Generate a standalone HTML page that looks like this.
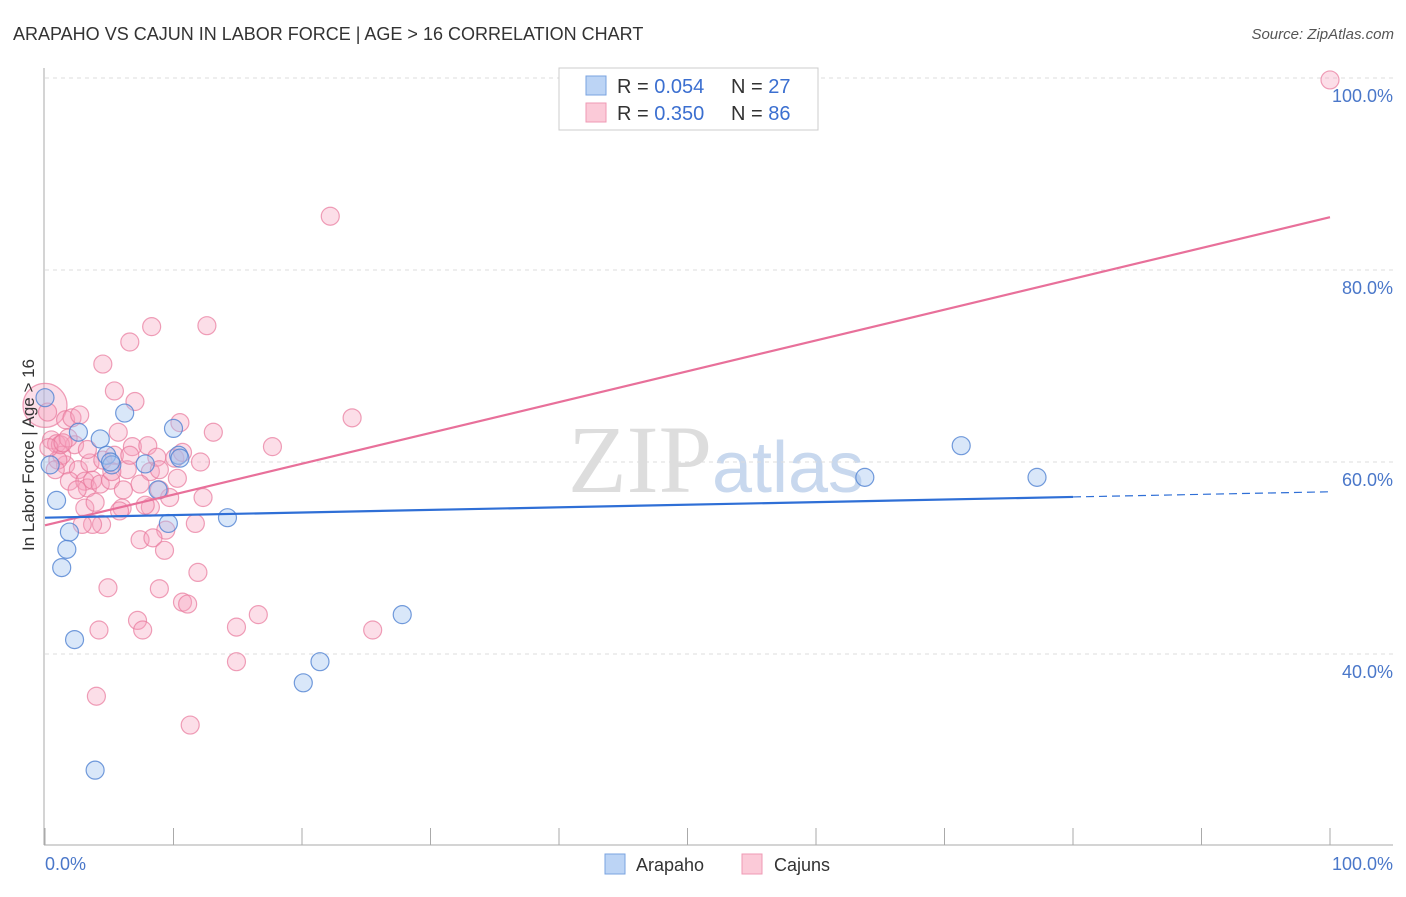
<!DOCTYPE html>
<html><head><meta charset="utf-8"><style>
body{margin:0;background:#fff;font-family:"Liberation Sans",sans-serif}
</style></head><body>
<svg id="c" width="1406" height="892" viewBox="0 0 1406 892" xmlns="http://www.w3.org/2000/svg">
<text x="13" y="40" font-size="18" fill="#333">ARAPAHO VS CAJUN IN LABOR FORCE | AGE &gt; 16 CORRELATION CHART</text>
<text x="1394" y="39" font-size="15" fill="#555" font-style="italic" text-anchor="end">Source: ZipAtlas.com</text>
<text x="640" y="492" font-size="96" fill="#ddd" font-family="Liberation Serif" text-anchor="middle">ZIP</text>
<text x="788" y="492" font-size="72" fill="#c8d8ee" text-anchor="middle">atlas</text>
<g id="grid"></g><g id="axes"></g><g id="pts"></g><g id="lines"></g>
<text x="34" y="455" font-size="17" fill="#333" text-anchor="middle" transform="rotate(-90 34 455)">In Labor Force | Age &gt; 16</text>
<text x="45" y="870" font-size="18" fill="#4a77c9">0.0%</text>
<text x="1393" y="870" font-size="18" fill="#4a77c9" text-anchor="end">100.0%</text>
<g>
<rect x="559" y="68" width="259" height="62" fill="#fff" stroke="#ccc"/>
<rect x="586" y="76" width="20" height="19" fill="#bcd4f5" stroke="#7aa3e0"/>
<rect x="586" y="103" width="20" height="19" fill="#fbcad8" stroke="#ef9ab4"/>
<text x="617" y="93" font-size="20" fill="#333">R = <tspan fill="#3b6fd0">0.054</tspan></text>
<text x="731" y="93" font-size="20" fill="#333">N = <tspan fill="#3b6fd0">27</tspan></text>
<text x="617" y="120" font-size="20" fill="#333">R = <tspan fill="#3b6fd0">0.350</tspan></text>
<text x="731" y="120" font-size="20" fill="#333">N = <tspan fill="#3b6fd0">86</tspan></text>
</g>
<g>
<rect x="605" y="854" width="20" height="20" fill="#bcd4f5" stroke="#7aa3e0"/>
<text x="636" y="871" font-size="18" fill="#333">Arapaho</text>
<rect x="742" y="854" width="20" height="20" fill="#fbcad8" stroke="#ef9ab4"/>
<text x="774" y="871" font-size="18" fill="#333">Cajuns</text>
</g>
</svg>
<script>
const yTicks=[40,60,80,100];
const yTickLabels=["40.0%","60.0%","80.0%","100.0%"];
const xTicks=[0,10,20,30,40,50,60,70,80,90,100];
const arapahoX=[0,0.4,0.9,2.6,4.3,6.2,4.8,5.2,10,10.4,10.5,7.8,8.8,9.6,14.2,1.9,1.7,1.3,2.3,3.9,20.1,21.4,27.8,63.8,71.3,77.2,5.1];
const arapahoY=[66.7,59.7,56,63.1,62.4,65.1,60.7,59.7,63.5,60.7,60.4,59.8,57.1,53.6,54.2,52.7,50.9,49,41.5,27.9,37,39.2,44.1,58.4,61.7,58.4,60];
const cajunX=[0,0.5,0.9,1.6,2.1,2.7,2.3,1.6,2.6,3.5,1.3,1,1.9,3.1,3.3,3.7,4.3,4.5,5.1,5.4,5.7,6.4,6.8,7,6.6,4.5,5.4,8.3,12.6,8,8.2,8.7,8.9,10.1,10.5,10.7,12.1,13.1,12.3,10.3,9.7,9.4,11.7,8.2,6,4.4,3.7,3.1,2.9,7.4,8.4,9.3,6.1,7.4,4.9,8.9,10.7,11.1,11.9,7.2,7.6,4.2,4,11.3,14.9,14.9,16.6,17.7,23.9,22.2,25.5,100,3.9,5.8,1.2,2.5,1.8,3.3,5.2,0.2,0.8,8.9,7.8,6.6,0.3,1.4];
const cajunY=[65.9,62.3,61.9,64.4,64.6,64.9,61.8,59.7,59.2,59.9,60.7,60.2,58,58,57.3,58.1,57.7,60.2,58.1,60.7,63.1,59.2,61.6,66.3,72.5,70.2,67.4,74.1,74.2,61.7,59,60.5,59.2,60.4,64.1,61,60,63.1,56.3,58.3,56.3,52.9,53.6,55.3,55.2,53.5,53.5,55.2,53.5,51.9,52.1,50.8,57.1,57.7,46.9,46.8,45.4,45.2,48.5,43.5,42.5,42.5,35.6,32.6,42.8,39.2,44.1,61.6,64.6,85.6,42.5,99.8,55.8,54.9,61.8,57.1,62.5,61.3,59,65.2,59.2,57.1,55.5,60.7,61.5,62];
const arapahoTrend=[54.2,56.9];
const cajunTrend=[53.4,85.5];
const NS="http://www.w3.org/2000/svg";
const X=v=>45+v*12.85, Y=v=>654-(v-40)*9.6;
function mk(t,a,p){const e=document.createElementNS(NS,t);for(const k in a)e.setAttribute(k,a[k]);document.getElementById(p).appendChild(e);return e;}
yTicks.forEach((t,i)=>{
 const g=mk('line',{x1:45,x2:1393,y1:Y(t),y2:Y(t),stroke:'#ddd','stroke-dasharray':'4,4'},'grid');
 
 
 const l=mk('text',{x:1393,y:Y(t)+24,'font-size':18,fill:'#4a77c9','text-anchor':'end'},'grid');
 l.textContent=yTickLabels[i];
 
 
});
let a=mk('line',{x1:44,x2:44,y1:68,y2:845,stroke:'#aaa'},'axes');


a=mk('line',{x1:44,x2:1393,y1:845,y2:845,stroke:'#aaa'},'axes');


xTicks.forEach(t=>{const k=mk('line',{x1:X(t),x2:X(t),y1:828,y2:845,stroke:'#aaa'},'axes');
 
 });
cajunX.forEach((x,i)=>{const c=mk('circle',{cx:X(x),cy:Y(cajunY[i]),r:i==0?22:9,fill:'rgba(246,160,188,0.35)',stroke:'rgba(232,120,155,0.7)','stroke-width':1.2},'pts');
 
 });
arapahoX.forEach((x,i)=>{const c=mk('circle',{cx:X(x),cy:Y(arapahoY[i]),r:9,fill:'rgba(160,195,240,0.4)',stroke:'rgba(80,130,210,0.8)','stroke-width':1.2},'pts');
 
 });
const bAt=v=>arapahoTrend[0]+(arapahoTrend[1]-arapahoTrend[0])*v/100;
let t=mk('line',{x1:X(0),y1:Y(cajunTrend[0]),x2:X(100),y2:Y(cajunTrend[1]),stroke:'#e8709a','stroke-width':2.2},'lines');


t=mk('line',{x1:X(0),y1:Y(bAt(0)),x2:X(80),y2:Y(bAt(80)),stroke:'#2f6fd6','stroke-width':2.2},'lines');


t=mk('line',{x1:X(80),y1:Y(bAt(80)),x2:X(100),y2:Y(bAt(100)),stroke:'#2f6fd6','stroke-width':1.2,'stroke-dasharray':'8,5'},'lines');


</script>
</body></html>
